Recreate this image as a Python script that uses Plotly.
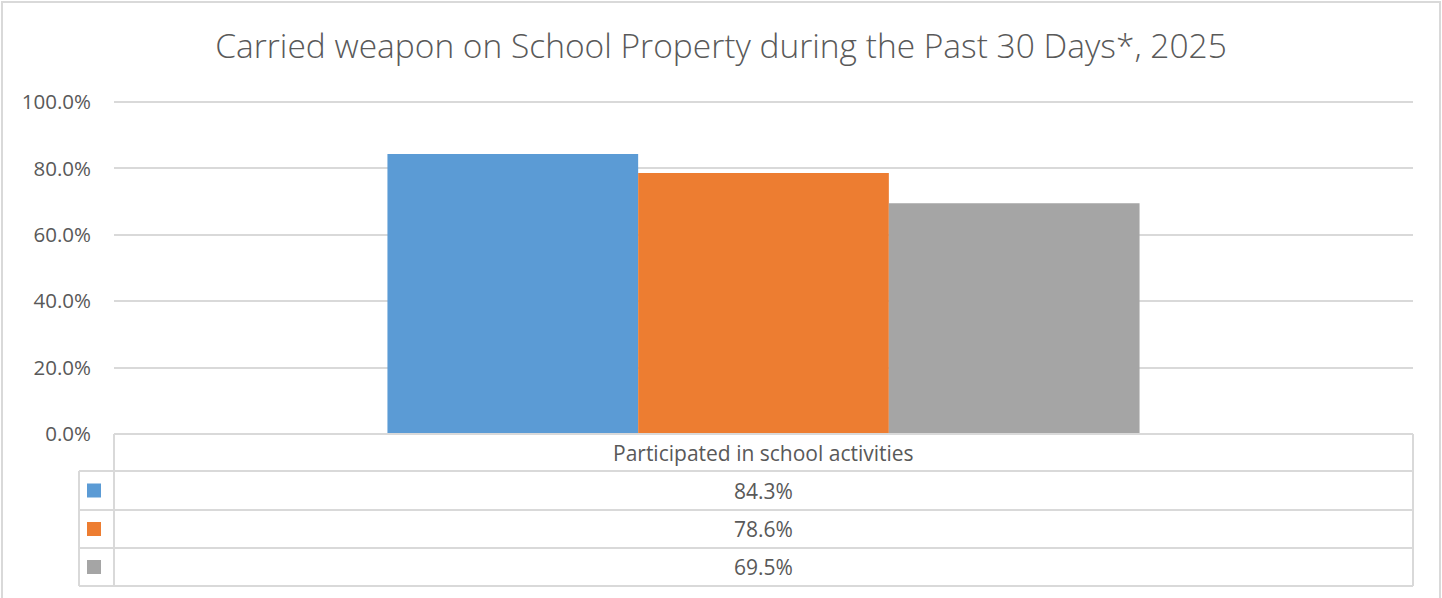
import plotly.graph_objects as go

W, H = 1442, 598
categories = ["Participated in school activities"]
series_names = ["Series 1", "Series 2", "Series 3"]
series_values = [[84.3], [78.6], [69.5]]
colors = ["#5B9BD5", "#ED7D31", "#A5A5A5"]
tick_vals = [0, 20, 40, 60, 80, 100]
tick_text = [f"{v:.1f}%" for v in tick_vals]
title = "Carried weapon on School Property during the Past 30 Days*, 2025"

FONT = "Open Sans"
TXT = "#595959"
GRID = "#D9D9D9"

def px(x):
    return x / W

def py(y):
    return 1 - y / H

fig = go.Figure()
for name, vals, c in zip(series_names, series_values, colors):
    fig.add_trace(go.Bar(x=categories, y=vals, name=name, marker=dict(color=c, line=dict(width=0)),
                         hoverinfo="skip"))

x0, x1 = 114, 1413
y_bot, y_top = 434, 102
range_max = 100.5
y_top_dom = y_bot - (y_bot - y_top) * range_max / 100

shapes = []
line = dict(color=GRID, width=2)
# outer chart border
shapes.append(dict(type="rect", xref="paper", yref="paper", x0=px(2), x1=px(1440), y0=py(2), y1=py(640),
                   line=dict(color=GRID, width=2), layer="below"))
# data table
row_lines = [434, 471, 510, 548, 586]
shapes.append(dict(type="line", xref="paper", yref="paper", x0=px(x0), x1=px(x0), y0=py(434), y1=py(586), line=line))
shapes.append(dict(type="line", xref="paper", yref="paper", x0=px(x1), x1=px(x1), y0=py(434), y1=py(586), line=line))
shapes.append(dict(type="line", xref="paper", yref="paper", x0=px(79), x1=px(79), y0=py(471), y1=py(586), line=line))
for i, yl in enumerate(row_lines):
    xa = x0 if i == 0 else 79
    shapes.append(dict(type="line", xref="paper", yref="paper", x0=px(xa), x1=px(x1), y0=py(yl), y1=py(yl), line=line))

annotations = []
annotations.append(dict(xref="paper", yref="paper", x=px((x0 + x1) / 2), y=py(452.5), text=categories[0],
                        xanchor="center", yanchor="middle",
                        showarrow=False, font=dict(family=FONT, size=21, color=TXT)))
for i, (vals, c) in enumerate(zip(series_values, colors)):
    yc = (row_lines[i + 1] + row_lines[i + 2]) / 2
    annotations.append(dict(xref="paper", yref="paper", x=px((x0 + x1) / 2), y=py(yc), text=f"{vals[0]:.1f}%",
                            xanchor="center", yanchor="middle",
                            showarrow=False, font=dict(family=FONT, size=21, color=TXT)))
    shapes.append(dict(type="rect", xref="paper", yref="paper", x0=px(87), x1=px(101), y0=py(yc - 7), y1=py(yc + 7),
                       fillcolor=c, line=dict(width=0)))

fig.update_layout(
    width=W, height=H, autosize=False,
    margin=dict(l=0, r=0, t=0, b=0, autoexpand=False),
    paper_bgcolor="white", plot_bgcolor="white",
    barmode="group", bargap=0.421, bargroupgap=0,
    showlegend=False,
    title=dict(text=title, x=0.5, xanchor="center", y=py(46), yanchor="middle",
               font=dict(family=FONT, size=33.5, color=TXT, weight=300)),
    xaxis=dict(domain=[px(x0), px(x1)], showticklabels=False, showgrid=False, zeroline=False,
               showline=False, fixedrange=True, automargin=False),
    yaxis=dict(domain=[py(y_bot), py(y_top_dom)], range=[0, range_max], tickvals=tick_vals, ticktext=tick_text,
               showgrid=True, gridcolor=GRID, gridwidth=2, zeroline=False, showline=False, automargin=False,
               tickfont=dict(family=FONT, size=20.5, color=TXT), ticks="", ticklabelstandoff=22,
               fixedrange=True),
    shapes=shapes, annotations=annotations,
)

fig.write_html("out.html", config={"displayModeBar": False},
               post_script="document.body.style.margin='0';document.body.style.overflow='hidden';")
